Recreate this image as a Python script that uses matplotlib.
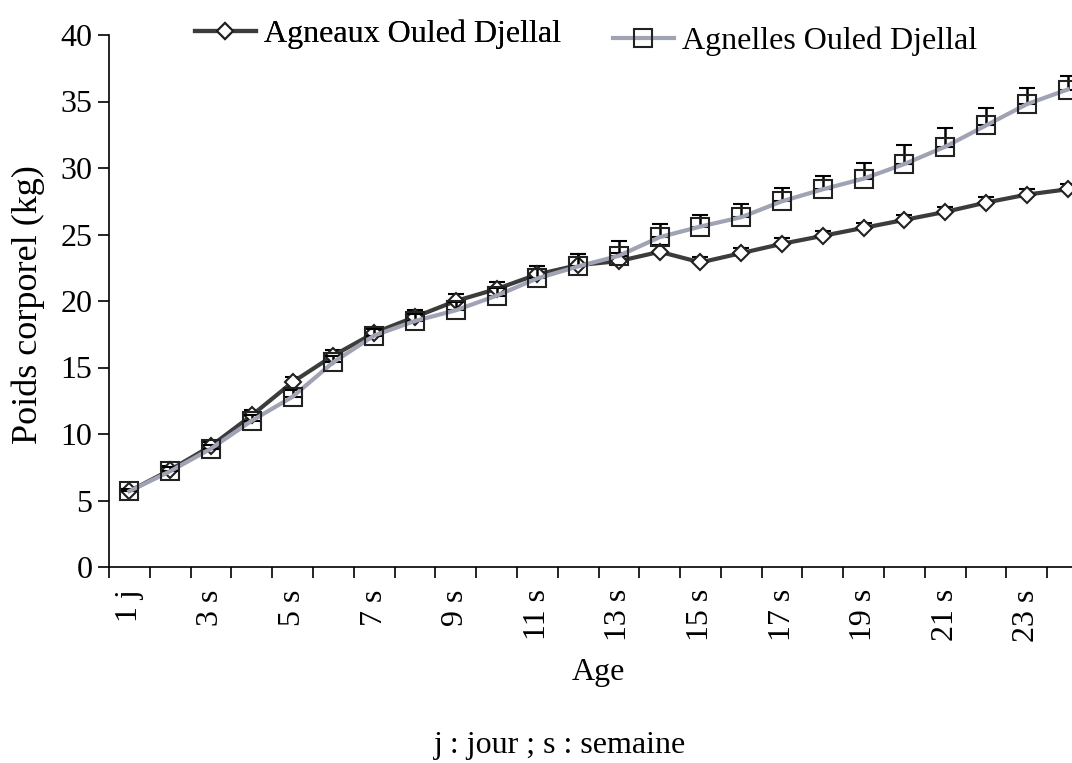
import matplotlib.pyplot as plt
import numpy as np

# age categories (1 jour, then weeks)
ages = ['1 j', '2 s', '3 s', '4 s', '5 s', '6 s', '7 s', '8 s', '9 s', '10 s', '11 s', '12 s',
        '13 s', '14 s', '15 s', '16 s', '17 s', '18 s', '19 s', '20 s', '21 s', '22 s', '23 s', '24 s']

# body weight (kg)
agneaux = [5.7, 7.3, 9.1, 11.4, 13.9, 15.9, 17.6, 18.8, 20.0, 20.9, 22.0, 22.7,
           23.0, 23.7, 22.9, 23.6, 24.3, 24.9, 25.5, 26.1, 26.7, 27.4, 28.0, 28.4]
agnelles = [5.7, 7.2, 8.9, 11.0, 12.8, 15.4, 17.4, 18.5, 19.3, 20.4, 21.7, 22.6,
            23.4, 24.8, 25.6, 26.3, 27.5, 28.4, 29.2, 30.3, 31.6, 33.2, 34.8, 35.9]

# upper error bars
err_agneaux = [0.2, 0.3, 0.3, 0.4, 0.4, 0.4, 0.4, 0.5, 0.5, 0.5, 0.6, 0.8,
               0.6, 0.5, 0.4, 0.4, 0.4, 0.4, 0.4, 0.4, 0.4, 0.4, 0.4, 0.4]
err_agnelles = [0.2, 0.3, 0.3, 0.4, 0.5, 0.5, 0.5, 0.5, 0.6, 0.6, 0.7, 0.9,
                1.1, 1.0, 0.9, 1.0, 1.0, 1.0, 1.2, 1.4, 1.4, 1.3, 1.2, 1.0]

plt.rcParams['font.family'] = ['Liberation Serif', 'DejaVu Serif']

fig = plt.figure(figsize=(10.72, 7.63), dpi=100)
ax = fig.add_axes([109/1072, 1-567/763, 979/1072, (567-35)/763])

x = np.arange(len(ages))
zeros = np.zeros(len(ages))

h1 = ax.errorbar(x, agneaux, yerr=[zeros, err_agneaux], color='#3c3c3c', lw=3,
                 marker='D', ms=8, mfc='white', mec='#202020', mew=1.5,
                 ecolor='black', elinewidth=1.8, capsize=6, capthick=2,
                 label='Agneaux Ouled Djellal', zorder=3)
h2 = ax.errorbar(x, agnelles, yerr=[zeros, err_agnelles], color='#a0a3b4', lw=3,
                 marker='s', ms=13, mfc='none', mec='#222222', mew=1.5,
                 ecolor='black', elinewidth=1.8, capsize=6, capthick=2,
                 label='Agnelles Ouled Djellal', zorder=4)

ax.set_xlim(-0.5, len(ages) - 0.5)
ax.set_ylim(0, 40)
ax.set_yticks(np.arange(0, 41, 5))
ax.tick_params(axis='y', labelsize=23, length=8, width=1.2, direction='out', pad=4)

ax.set_xticks(x[::2])
ax.set_xticklabels(ages[::2], rotation=90)
ax.set_xticks(np.arange(-0.5, len(ages), 1), minor=True)
ax.tick_params(axis='x', which='major', length=0, labelsize=23, pad=16)
ax.tick_params(axis='x', which='minor', length=8, width=1.2, direction='out')

for s in ['top', 'right']:
    ax.spines[s].set_visible(False)
for s in ['left', 'bottom']:
    ax.spines[s].set_linewidth(1.2)

ax.set_xlabel('Age', fontsize=23, labelpad=12)
fig.text(28/1072, 1-305/763, 'Poids corporel (kg)', rotation=90, fontsize=26,
         ha='center', va='center')
fig.text(560/1072, 1-745/763, 'j : jour ; s : semaine', fontsize=23,
         ha='center', va='center')

# legend handles: line + marker only, no error bars
leg1 = fig.legend(handles=[h1[0]], labels=['Agneaux Ouled Djellal'], loc='center left',
                  bbox_to_anchor=(195/1072, 1-34/763),
                  frameon=False, fontsize=23, borderpad=0, borderaxespad=0,
                  handlelength=1.9, handletextpad=0.25)
fig.add_artist(leg1)
fig.legend(handles=[h2[0]], labels=['Agnelles Ouled Djellal'], loc='center left',
           bbox_to_anchor=(613/1072, 1-41/763),
           frameon=False, fontsize=23, borderpad=0, borderaxespad=0,
           handlelength=1.9, handletextpad=0.25)

plt.savefig('out.png', dpi=100)
